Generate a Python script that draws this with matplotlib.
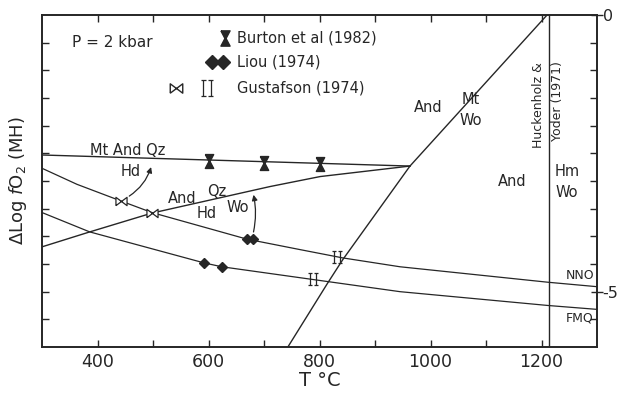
import numpy as np
import matplotlib
matplotlib.use('Agg')
import matplotlib.pyplot as plt
from matplotlib.path import Path

# boundary curves (T in deg C, delta log fO2 relative to MH)
mtq_T = [300, 963]                       # Mt And Qz / Hd (upper, nearly flat)
mtq_y = [-2.53, -2.73]
hd_T = [300, 386, 498, 711, 801, 963]    # And Qz / Hd Wo
hd_y = [-4.19, -3.92, -3.58, -3.10, -2.92, -2.73]
mt_T = [743, 815, 842, 963, 1210]        # And Wo / Mt
mt_y = [-6.0, -4.84, -4.42, -2.73, 0.0]
nno_T = [300, 363, 442, 498, 669, 765, 842, 945, 1212, 1300]
nno_y = [-2.77, -3.06, -3.36, -3.57, -4.05, -4.24, -4.39, -4.55, -4.83, -4.91]
fmq_T = [300, 386, 592, 624, 788, 945, 1212, 1300]
fmq_y = [-3.57, -3.92, -4.48, -4.55, -4.78, -5.00, -5.25, -5.32]
hy_T = 1213                              # Huckenholz & Yoder (1971)

# experimental brackets
burton_T = [600, 700, 800]
burton_y = [-2.64, -2.67, -2.70]
liou_T = [592, 624, 669, 681]
liou_y = [-4.48, -4.55, -4.05, -4.05]
gus_open_T = [442, 498]
gus_open_y = [-3.36, -3.57]
gus_ii_T = [788, 832]
gus_ii_y = [-4.78, -4.37]

xticks = [400, 600, 800, 1000, 1200]

ink = '#262626'
plt.rcParams['font.family'] = ['DejaVu Sans']

hourglass = [(-0.6, 1), (0.6, 1), (0.1, 0.05), (0.1, -0.05), (0.6, -1),
             (-0.6, -1), (-0.1, -0.05), (-0.1, 0.05), (-0.6, 1)]
bowtie = [(-1, -0.75), (-1, 0.75), (1, -0.75), (1, 0.75), (-1, -0.75)]
ii_verts = [(-0.5, -1), (-0.5, 1), (-0.85, 1), (-0.15, 1), (-0.85, -1), (-0.15, -1),
            (0.5, -1), (0.5, 1), (0.15, 1), (0.85, 1), (0.15, -1), (0.85, -1)]
ii_codes = [Path.MOVETO, Path.LINETO] * 6
ii_marker = Path(ii_verts, ii_codes)

fig = plt.figure(figsize=(6.18, 3.95), dpi=100)
ax = fig.add_axes([42 / 618, 1 - 347 / 395, 555 / 618, 332 / 395])

lw = 1.0
ax.plot(mtq_T, mtq_y, color=ink, lw=lw)
ax.plot(hd_T, hd_y, color=ink, lw=lw)
ax.plot(mt_T, mt_y, color=ink, lw=lw)
ax.plot(nno_T, nno_y, color=ink, lw=lw * 0.9)
ax.plot(fmq_T, fmq_y, color=ink, lw=lw * 0.9)
ax.axvline(hy_T, color=ink, lw=lw)

ax.plot(burton_T, burton_y, ls='none', marker=hourglass, ms=10, color=ink, mec=ink)
ax.plot(liou_T, liou_y, ls='none', marker='D', ms=5, color=ink)
ax.plot(gus_open_T, gus_open_y, ls='none', marker=bowtie, ms=8, mfc='white', mec=ink, mew=0.9)
ax.plot(gus_ii_T, gus_ii_y, ls='none', marker=ii_marker, ms=8, mfc='none', mec=ink, mew=0.9)

# arrows
ax.annotate('', xy=(498, -2.70), xytext=(453, -3.30),
            arrowprops=dict(arrowstyle='-|>', connectionstyle='arc3,rad=0.2',
                            color=ink, lw=0.9, mutation_scale=8))
ax.annotate('', xy=(680, -3.20), xytext=(680, -3.97),
            arrowprops=dict(arrowstyle='-|>', connectionstyle='arc3,rad=0.12',
                            color=ink, lw=0.9, mutation_scale=8))

# key
ax.text(354, -0.49, 'P = 2 kbar', fontsize=11, color=ink, va='center')
ax.plot([629], [-0.42], marker=hourglass, ms=11, color=ink, ls='none')
ax.text(651, -0.42, 'Burton et al (1982)', fontsize=10.5, color=ink, va='center')
ax.plot([607, 627], [-0.85, -0.85], marker='D', ms=7, color=ink, ls='none')
ax.text(651, -0.85, 'Liou (1974)', fontsize=10.5, color=ink, va='center')
ax.plot([541], [-1.32], marker=bowtie, ms=9, mfc='white', mec=ink, mew=1, ls='none')
ax.plot([597], [-1.32], marker=ii_marker, ms=11, mfc='none', mec=ink, mew=0.9, ls='none')
ax.text(651, -1.32, 'Gustafson (1974)', fontsize=10.5, color=ink, va='center')

# field labels
lbl = dict(fontsize=10.5, color=ink, ha='center', va='center')
ax.text(455, -2.44, 'Mt And Qz', **lbl)
ax.text(459, -2.82, 'Hd', **lbl)
ax.text(552, -3.32, 'And', **lbl)
ax.text(615, -3.19, 'Qz', **lbl)
ax.text(597, -3.59, 'Hd', **lbl)
ax.text(653, -3.47, 'Wo', **lbl)
ax.text(995, -1.68, 'And', **lbl)
ax.text(1073, -1.53, 'Mt', **lbl)
ax.text(1073, -1.90, 'Wo', **lbl)
ax.text(1147, -3.00, 'And', **lbl)
ax.text(1246, -2.83, 'Hm', **lbl)
ax.text(1246, -3.21, 'Wo', **lbl)
ax.text(1194, -1.62, 'Huckenholz &', fontsize=9, color=ink, rotation=90, ha='center', va='center')
ax.text(1229, -1.55, 'Yoder (1971)', fontsize=9, color=ink, rotation=90, ha='center', va='center')
ax.text(1269, -4.71, 'NNO', fontsize=9, color=ink, ha='center', va='center')
ax.text(1269, -5.47, 'FMQ', fontsize=9, color=ink, ha='center', va='center')

ax.set_xlim(300, 1300)
ax.set_ylim(-6, 0)
ax.set_xticks(xticks)
ax.set_xticklabels([str(t) for t in xticks])
ax.set_xticks([500, 700, 900, 1100], minor=True)
ax.set_yticks(np.arange(-5.5, 0, 0.5))
ax.set_yticklabels([])
ax.tick_params(which='both', direction='in', top=True, right=False, length=5,
               width=1, color=ink, labelsize=12.5, labelcolor=ink, pad=4)
ax.set_xlabel('T °C', fontsize=14, color=ink, labelpad=0)
ax.set_ylabel(r'$\Delta$Log $f$O$_2$ (MH)', fontsize=13, color=ink, labelpad=5)
for s in ax.spines.values():
    s.set_linewidth(1.4)
    s.set_color(ink)

ax2 = ax.twinx()
ax2.set_ylim(-6, 0)
ax2.set_yticks([0, -5])
ax2.set_yticklabels(['0', '-5'])
ax2.set_yticks(np.arange(-5.5, 0, 0.5), minor=True)
ax2.tick_params(which='major', direction='inout', length=8, width=1, color=ink,
                labelsize=11.5, labelcolor=ink, pad=0)
ax2.tick_params(which='minor', direction='in', length=5, width=1, color=ink)
for s in ax2.spines.values():
    s.set_visible(False)

fig.savefig('out.png', dpi=100, facecolor='white')
